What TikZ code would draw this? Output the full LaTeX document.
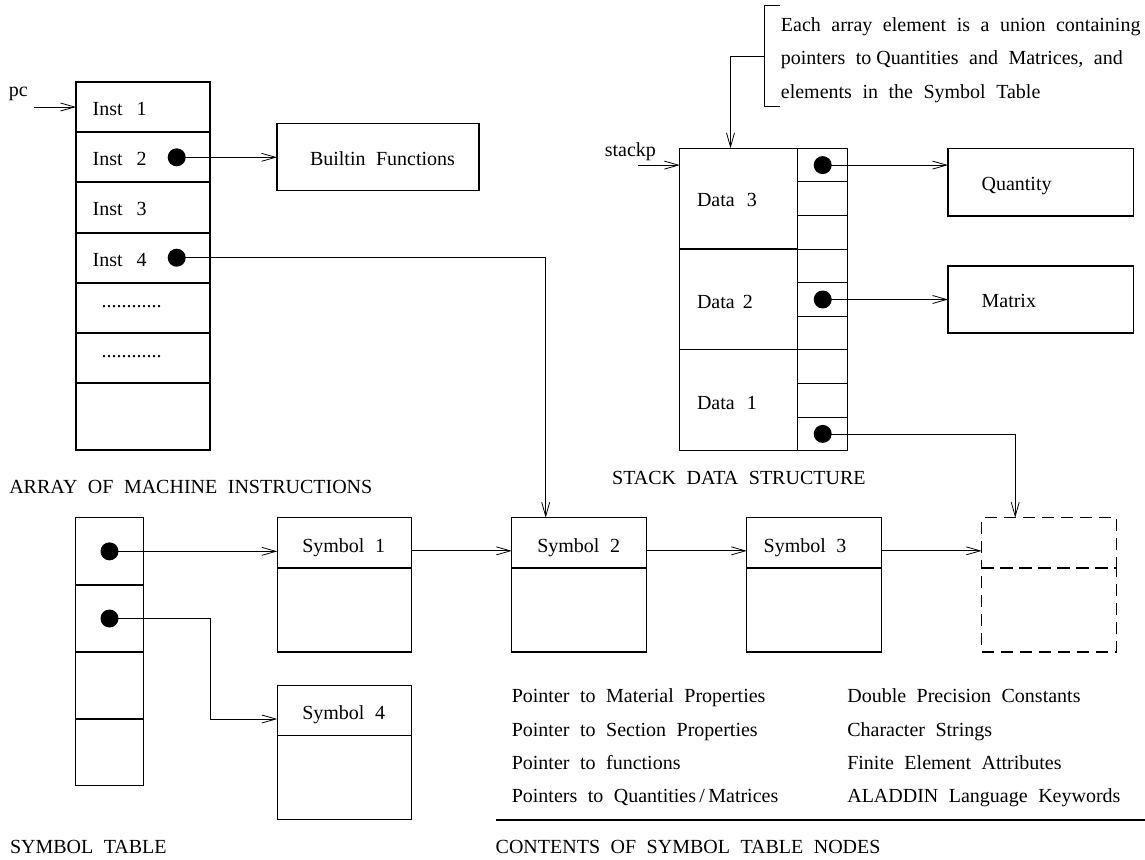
\documentclass[tikz,border=0pt]{standalone}
\usepackage{fontspec}
\setmainfont[WordSpace=2.1]{Liberation Serif}
\usetikzlibrary{arrows.meta}
\begin{document}
\begin{tikzpicture}[x=1pt,y=-1pt,
  every node/.style={font=\fontsize{20}{24}\selectfont, inner sep=0pt, outer sep=0pt},
  box/.style={draw, line width=1.1pt, anchor=north west},
  dbox/.style={draw, line width=1.1pt, anchor=north west, dash pattern=on 12pt off 7pt},
  lbl/.style={anchor=base west},
  ptr/.style={circle, fill=black, minimum size=18pt},
  conn/.style={line width=0.8pt, -{Straight Barb[length=14pt,width=8pt]}},
  plain/.style={line width=0.8pt}]
\useasboundingbox (0,0) rectangle (1145,859);

% ---------- array of machine instructions ----------
\node[box, minimum width=134pt, minimum height=50pt] (i1) at (76,82) {};
\node[box, minimum width=134pt, minimum height=50pt] (i2) at (76,132) {};
\node[box, minimum width=134pt, minimum height=51pt] (i3) at (76,182) {};
\node[box, minimum width=134pt, minimum height=50pt] (i4) at (76,233) {};
\node[box, minimum width=134pt, minimum height=50pt] (i5) at (76,283) {};
\node[box, minimum width=134pt, minimum height=50pt] (i6) at (76,333) {};
\node[box, minimum width=134pt, minimum height=67pt] (i7) at (76,383) {};
\node[lbl] (t1) at (92.7,115) {Inst\hspace{14pt}1};
\node[lbl] (t2) at (92.7,165) {Inst\hspace{14pt}2};
\node[lbl] (t3) at (92.7,215) {Inst\hspace{14pt}3};
\node[lbl] (t4) at (92.7,266) {Inst\hspace{14pt}4};
\node[lbl] (t5) at (101.7,307) {............};
\node[lbl] (t6) at (101.7,357) {............};
\node[lbl] (pc) at (9,96) {pc};
\coordinate (pcs) at (34,107);
\draw[conn] (pcs) -- (pcs -| i1.west);

\node[box, minimum width=202pt, minimum height=67.4pt] (bf) at (277,123.3) {};
\node[lbl] (bft) at (310,165) {Builtin Functions};

\node[ptr] (id2) at (176.7,157.3) {};
\node[ptr] (id4) at (176.7,257.7) {};
\node[lbl] (arrlab) at (9.3,493.3) {ARRAY OF MACHINE INSTRUCTIONS};

% ---------- note ----------
\draw[line width=1.1pt] (780.1,5.7) -- (764.1,5.7) -- (764.1,106.7) -- (780.1,106.7);
\coordinate (brk) at (764.1,56);
\node[lbl] (n1) at (780.9,31.7) {Each array element is a union containing};
\node[lbl] (n2) at (780.9,65) {pointers to\hspace{5pt}Quantities and Matrices, and};
\node[lbl] (n3) at (780.9,98.3) {elements in the Symbol Table};

% ---------- stack ----------
\node[box, minimum width=117.9pt, minimum height=100.7pt] (d3) at (679.8,148.3) {};
\node[box, minimum width=117.9pt, minimum height=100.7pt] (d2) at (679.8,249) {};
\node[box, minimum width=117.9pt, minimum height=101pt] (d1) at (679.8,349.7) {};
\foreach \k in {1,...,9} {
  \node[box, minimum width=50pt, minimum height=33.6pt] (s\k) at (797.7,{148.3+33.6*(\k-1)}) {};
}
\node[lbl] (dt3) at (697,206.7) {Data\hspace{12pt}3};
\node[lbl] (dt2) at (697,308.3) {Data\hspace{8pt}2};
\node[lbl] (dt1) at (697,409.3) {Data\hspace{12pt}1};
\node[lbl] (sp) at (604.8,156) {stackp};
\coordinate (sps) at (638.4,165.1);
\draw[conn] (sps) -- (sps -| d3.west);
\draw[conn] (brk) -| ([xshift=50.7pt]d3.north west);

\node[box, minimum width=185.5pt, minimum height=67.7pt] (qty) at (948,148.3) {};
\node[box, minimum width=185.5pt, minimum height=67pt] (mtx) at (948,266) {};
\node[lbl] (qt) at (981.6,190) {Quantity};
\node[lbl] (mt) at (981.6,307) {Matrix};
\node[lbl] (stlab) at (612.2,484) {STACK DATA STRUCTURE};

% ---------- symbol table ----------
\node[box, minimum width=67.6pt, minimum height=67.3pt] (y1) at (75.7,517.7) {};
\node[box, minimum width=67.6pt, minimum height=67pt] (y2) at (75.7,585) {};
\node[box, minimum width=67.6pt, minimum height=67pt] (y3) at (75.7,652) {};
\node[box, minimum width=67.6pt, minimum height=66.7pt] (y4) at (75.7,719) {};
\node[lbl] (sylab) at (10,853) {SYMBOL TABLE};

\foreach \n/\x in {1/277.3, 2/511.8, 3/746.8} {
  \node[box, minimum width=134.4pt, minimum height=50.3pt] (h\n) at (\x,517.7) {};
  \node[box, minimum width=134.4pt, minimum height=84pt] (b\n) at (\x,568) {};
}
\node[dbox, minimum width=134.4pt, minimum height=50.3pt] (hd) at (981.7,517.7) {};
\node[dbox, minimum width=134.4pt, minimum height=84pt] (bd) at (981.7,568) {};
\node[box, minimum width=134.4pt, minimum height=50.4pt] (h4) at (277.3,685.3) {};
\node[box, minimum width=134.4pt, minimum height=84pt] (b4) at (277.3,735.7) {};
\node[lbl] (sy1) at (302.3,552) {Symbol 1};
\node[lbl] (sy2) at (537.3,552) {Symbol 2};
\node[lbl] (sy3) at (763.7,552) {Symbol 3};
\node[lbl] (sy4) at (302.3,719.5) {Symbol 4};

% ---------- contents ----------
\node[lbl] (c1) at (511.8,702.3) {Pointer to Material Properties};
\node[lbl] (c2) at (511.8,736) {Pointer to Section Properties};
\node[lbl] (c3) at (511.8,769.3) {Pointer to functions};
\node[lbl] (c4) at (511.8,802.7) {Pointers to Quantities\,/\,Matrices};
\node[lbl] (c5) at (847.3,702.3) {Double Precision Constants};
\node[lbl] (c6) at (847.3,736) {Character Strings};
\node[lbl] (c7) at (847.3,769.3) {Finite Element Attributes};
\node[lbl] (c8) at (847.3,802.7) {ALADDIN Language Keywords};
\coordinate (rl) at (495.7,820);
\coordinate (rr) at (1145,820);
\draw[line width=1.6pt] (rl) -- (rr);
\node[lbl] (colab) at (495.7,853) {CONTENTS OF SYMBOL TABLE NODES};

% ---------- pointer dots & connectors ----------
\node[ptr] (dd3) at (s1.center) {};
\node[ptr] (dd2) at (s5.center) {};
\node[ptr] (dd1) at (s9.center) {};
\node[ptr] (yd1) at (y1.center) {};
\node[ptr] (yd2) at (y2.center) {};

\draw[conn] (id2.center) -- (id2.center -| bf.west);
\draw[conn] (id4.center) -| ([xshift=33.9pt]h2.north west);
\draw[conn] (dd3.center) -- (dd3.center -| qty.west);
\draw[conn] (dd2.center) -- (dd2.center -| mtx.west);
\draw[conn] (dd1.center) -| ([xshift=33.5pt]hd.north west);
\draw[conn] (yd1.center) -- (yd1.center -| h1.west);
\draw[conn] (yd2.center) -- ++(100.7,0) |- ([yshift=-8.5pt]h4.west);
\draw[conn] ([yshift=-8pt]h1.east) -- ([yshift=-8pt]h2.west);
\draw[conn] ([yshift=-8pt]h2.east) -- ([yshift=-8pt]h3.west);
\draw[conn] ([yshift=-8pt]h3.east) -- ([yshift=-8pt]hd.west);
\end{tikzpicture}
\end{document}
